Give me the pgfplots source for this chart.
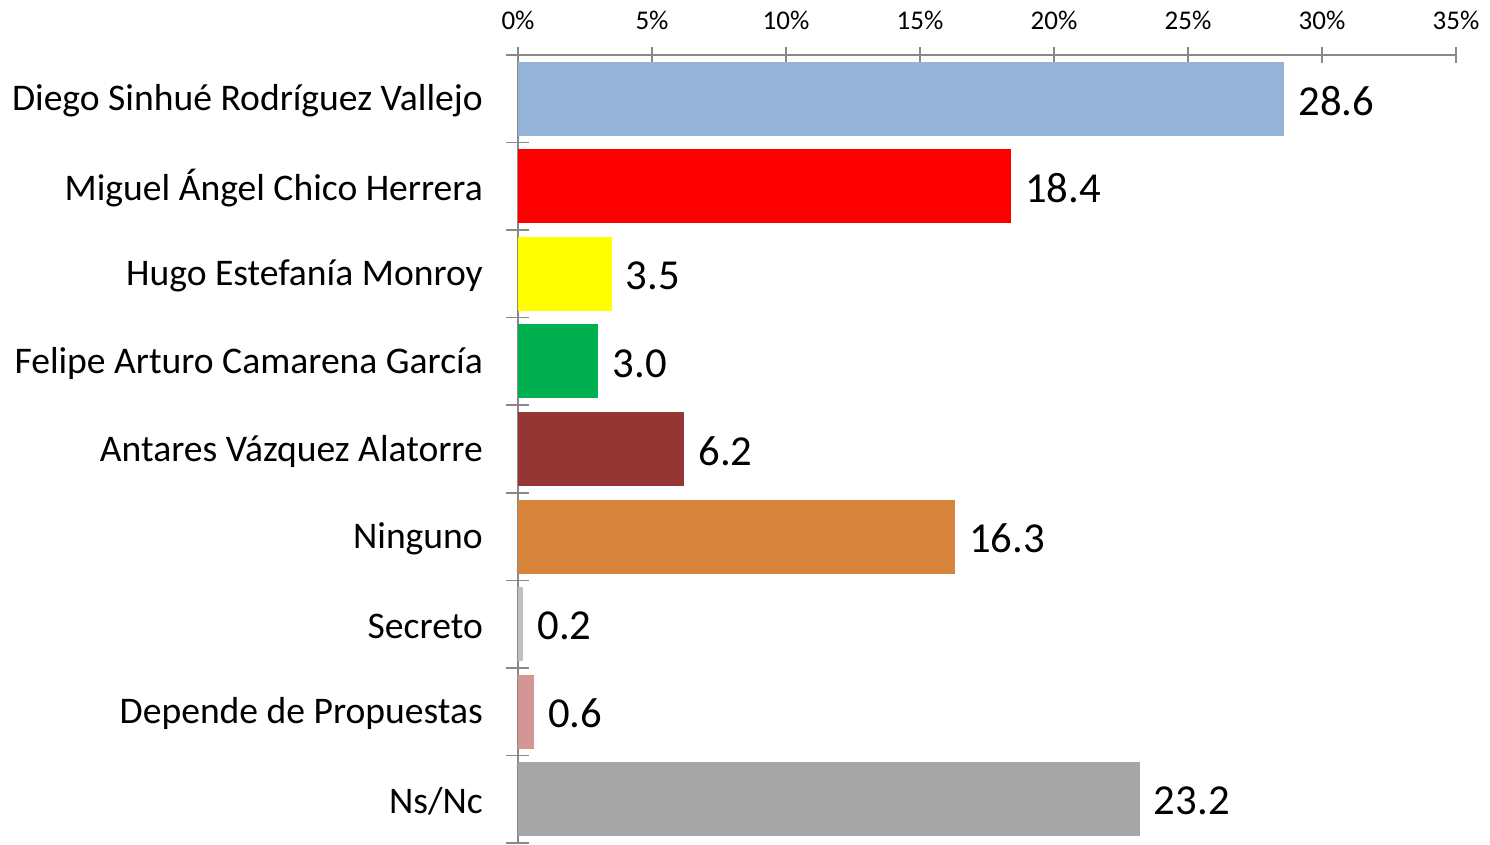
\documentclass[border=0pt]{standalone}
\usepackage{fontspec}
\setmainfont{Carlito}
\usepackage{pgfplots}
\pgfplotsset{compat=1.18}
\definecolor{axisgray}{HTML}{898989}
\definecolor{cA}{HTML}{95B3D7}
\definecolor{cB}{HTML}{FF0000}
\definecolor{cC}{HTML}{FFFF00}
\definecolor{cD}{HTML}{00B050}
\definecolor{cE}{HTML}{943634}
\definecolor{cF}{HTML}{D9843D}
\definecolor{cG}{HTML}{C0C0C0}
\definecolor{cH}{HTML}{D69595}
\definecolor{cI}{HTML}{A6A6A6}
\begin{document}
\begin{tikzpicture}
\begin{axis}[
  scale only axis, width=938pt, height=788pt,
  xbar, bar width=74pt,
  xmin=0, xmax=35, ymin=-0.5, ymax=8.5, y dir=reverse,
  axis x line*=top, axis y line*=left,
  axis line style={draw=axisgray, line width=1.5pt},
  xtick={0,5,...,35},
  xticklabel={\pgfmathprintnumber{\tick}\%},
  /pgf/number format/assume math mode=true,
  xticklabel style={font=\fontsize{27}{32}\selectfont, inner sep=0pt, yshift=17pt},
  ytick={0,...,8},
  yticklabels={Diego Sinhué Rodríguez Vallejo, Miguel Ángel Chico Herrera, Hugo Estefanía Monroy, Felipe Arturo Camarena García, Antares Vázquez Alatorre, Ninguno, Secreto, Depende de Propuestas, Ns/Nc},
  yticklabel style={font=\fontsize{37.6}{45}\selectfont, inner sep=0pt, xshift=-27pt, yshift=-2pt},
  minor ytick={-0.5,0.5,...,8.5},
  tick align=center,
  major tick length=16pt, minor tick length=23pt,
  every tick/.style={draw=axisgray, line width=1.5pt},
  every major y tick/.append style={draw=none},
  point meta=x,
  nodes near coords={\pgfmathprintnumber[fixed,fixed zerofill,precision=1]{\pgfplotspointmeta}},
  every node near coord/.append style={font=\fontsize{42.7}{51}\selectfont, anchor=west, inner sep=0pt, xshift=14pt, yshift=-2pt, text=black},
  clip=false,
]
\addplot[fill=cA, draw=none, bar shift=0pt] coordinates {(28.6,0)};
\addplot[fill=cB, draw=none, bar shift=0pt] coordinates {(18.4,1)};
\addplot[fill=cC, draw=none, bar shift=0pt] coordinates {(3.5,2)};
\addplot[fill=cD, draw=none, bar shift=0pt] coordinates {(3.0,3)};
\addplot[fill=cE, draw=none, bar shift=0pt] coordinates {(6.2,4)};
\addplot[fill=cF, draw=none, bar shift=0pt] coordinates {(16.3,5)};
\addplot[fill=cG, draw=none, bar shift=0pt] coordinates {(0.2,6)};
\addplot[fill=cH, draw=none, bar shift=0pt] coordinates {(0.6,7)};
\addplot[fill=cI, draw=none, bar shift=0pt] coordinates {(23.2,8)};
\end{axis}
\pgfresetboundingbox
\path ([xshift=-518pt,yshift=55pt]current axis.north west) rectangle ([xshift=34pt,yshift=-2pt]current axis.south east);
\end{tikzpicture}
\end{document}
